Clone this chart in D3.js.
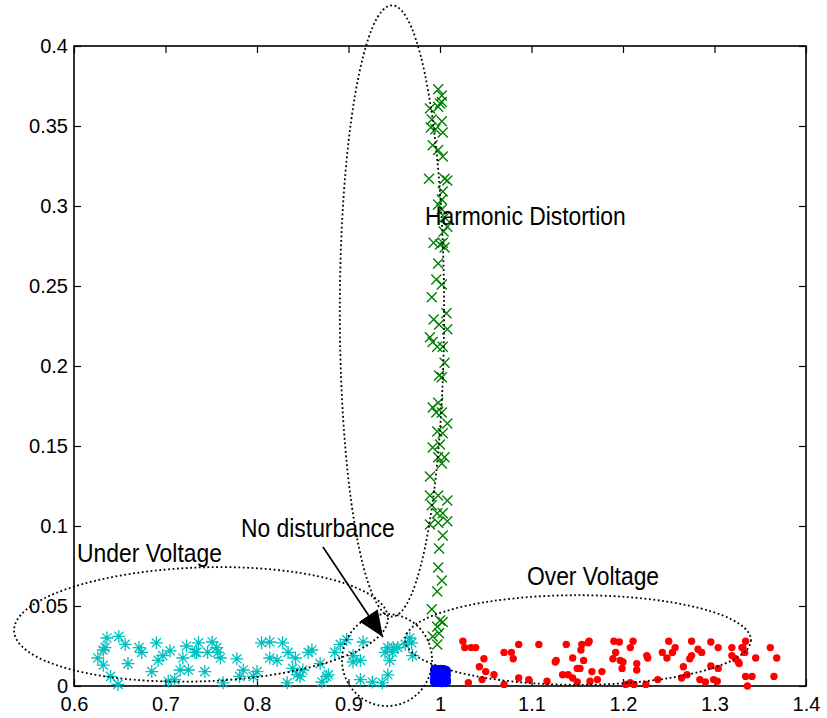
<!DOCTYPE html>
<html>
<head>
<meta charset="utf-8">
<script src="https://cdn.jsdelivr.net/npm/d3@7"></script>
<style>
  body { margin: 0; background: #fff; }
  svg { display: block; }
</style>
</head>
<body>
<div id="container"></div>
<script>
const width = 827, height = 718;
const margin = ({top: 46, right: 21, bottom: 32, left: 74});

// axis ticks
const xTicks = [0.6, 0.7, 0.8, 0.9, 1, 1.1, 1.2, 1.3, 1.4];
const yTicks = [0, 0.05, 0.1, 0.15, 0.2, 0.25, 0.3, 0.35, 0.4];

// Under Voltage (cyan asterisks)
const underVoltage = [
  [0.636, 0.030], [0.634, 0.024], [0.632, 0.0225], [0.626, 0.0175], [0.632, 0.013],
  [0.649, 0.031], [0.656, 0.026], [0.640, 0.006], [0.648, 0.001], [0.659, 0.014],
  [0.671, 0.024], [0.674, 0.021], [0.690, 0.027], [0.685, 0.009], [0.692, 0.016],
  [0.697, 0.019], [0.705, 0.022], [0.703, 0.003], [0.710, 0.004], [0.723, 0.025],
  [0.719, 0.0175], [0.716, 0.010], [0.725, 0.010], [0.732, 0.021], [0.736, 0.027],
  [0.734, 0.021], [0.743, 0.009], [0.751, 0.0275], [0.746, 0.021], [0.756, 0.024],
  [0.757, 0.021], [0.760, 0.0175], [0.763, 0.002], [0.778, 0.017], [0.785, 0.010],
  [0.781, 0.006], [0.800, 0.009], [0.796, 0.006], [0.805, 0.027], [0.814, 0.0275],
  [0.828, 0.027], [0.814, 0.0175], [0.822, 0.016], [0.834, 0.021], [0.842, 0.0175],
  [0.860, 0.0225], [0.856, 0.021], [0.869, 0.014], [0.885, 0.021], [0.891, 0.026],
  [0.898, 0.029], [0.905, 0.019], [0.905, 0.015], [0.913, 0.016], [0.916, 0.0275],
  [0.878, 0.007], [0.871, 0.0025], [0.850, 0.010], [0.844, 0.007], [0.839, 0.011],
  [0.833, 0.002], [0.913, 0.004], [0.926, 0.0025], [0.937, 0.002], [0.943, 0.007],
  [0.943, 0.024], [0.940, 0.021], [0.949, 0.024], [0.948, 0.021], [0.954, 0.024],
  [0.945, 0.016], [0.962, 0.026], [0.967, 0.030], [0.969, 0.027], [0.970, 0.019],
  [0.847, 0.006], [0.876, 0.006]
];

// Harmonic Distortion (green x)
const harmonic = [
  [0.998, 0.373], [1.002, 0.369], [0.989, 0.361], [1.000, 0.364], [1.002, 0.365],
  [0.998, 0.362], [0.991, 0.354], [1.002, 0.353], [0.990, 0.349], [1.003, 0.346],
  [0.995, 0.348], [0.992, 0.338], [0.998, 0.335], [1.003, 0.331], [0.988, 0.317],
  [1.005, 0.317], [1.008, 0.316], [1.003, 0.309], [1.002, 0.304], [0.998, 0.301],
  [1.002, 0.298], [1.005, 0.293], [1.008, 0.287], [1.004, 0.284], [0.993, 0.277],
  [1.000, 0.276], [1.003, 0.277], [1.005, 0.274], [0.998, 0.264], [0.996, 0.254],
  [1.002, 0.251], [0.991, 0.243], [0.993, 0.229], [0.999, 0.226], [1.007, 0.233],
  [1.008, 0.223], [0.989, 0.218], [0.992, 0.215], [0.997, 0.212], [1.003, 0.212],
  [1.005, 0.202], [0.999, 0.194], [1.002, 0.193], [0.992, 0.174], [0.998, 0.177],
  [1.002, 0.171], [0.996, 0.171], [1.008, 0.164], [0.997, 0.159], [1.003, 0.158],
  [0.992, 0.149], [1.000, 0.151], [0.998, 0.143], [1.005, 0.143], [1.002, 0.139],
  [0.989, 0.131], [0.989, 0.119], [0.998, 0.119], [1.008, 0.116], [0.991, 0.113],
  [0.997, 0.108], [1.003, 0.108], [0.989, 0.101], [0.998, 0.102], [1.008, 0.103],
  [1.003, 0.094], [0.999, 0.086], [0.998, 0.074], [1.002, 0.066], [0.997, 0.059],
  [0.991, 0.048], [1.000, 0.041], [1.003, 0.040], [0.997, 0.037], [0.999, 0.033],
  [0.992, 0.031], [0.997, 0.026]
];

// Over Voltage (red dots)
const overVoltage = [
  [1.025, 0.028], [1.027, 0.024], [1.034, 0.024], [1.039, 0.024], [1.031, 0.002],
  [1.043, 0.012], [1.048, 0.017], [1.050, 0.009], [1.046, 0.004], [1.059, 0.007],
  [1.070, 0.001], [1.070, 0.021], [1.078, 0.021], [1.080, 0.017], [1.086, 0.026],
  [1.086, 0.005], [1.097, 0.004], [1.108, 0.026], [1.117, 0.003], [1.126, 0.015],
  [1.127, 0.016], [1.134, 0.007], [1.138, 0.026], [1.140, 0.007], [1.145, 0.0175],
  [1.145, 0.005], [1.150, 0.0025], [1.150, 0.011], [1.153, 0.011], [1.154, 0.0225],
  [1.155, 0.026], [1.157, 0.016], [1.162, 0.027], [1.163, 0.028], [1.164, 0.003],
  [1.166, 0.009], [1.172, 0.004], [1.177, 0.009], [1.189, 0.017], [1.190, 0.028],
  [1.192, 0.021], [1.196, 0.0275], [1.197, 0.016], [1.200, 0.015], [1.199, 0.011],
  [1.203, 0.001], [1.208, 0.002], [1.212, 0.001], [1.208, 0.024], [1.211, 0.028],
  [1.215, 0.014], [1.215, 0.010], [1.225, 0.001], [1.226, 0.019], [1.227, 0.0175],
  [1.238, 0.004], [1.243, 0.021], [1.248, 0.0175], [1.250, 0.028], [1.254, 0.021],
  [1.257, 0.024], [1.264, 0.005], [1.266, 0.012], [1.270, 0.007], [1.273, 0.017],
  [1.275, 0.028], [1.275, 0.019], [1.282, 0.023], [1.286, 0.021], [1.284, 0.004],
  [1.290, 0.0025], [1.296, 0.0275], [1.296, 0.0125], [1.299, 0.004], [1.303, 0.003],
  [1.304, 0.024], [1.304, 0.011], [1.319, 0.024], [1.319, 0.019], [1.323, 0.017],
  [1.326, 0.015], [1.327, 0.014], [1.330, 0.024], [1.331, 0.024], [1.333, 0.021],
  [1.334, 0.028], [1.334, 0.006], [1.336, 0.000], [1.341, 0.006], [1.345, 0.0175],
  [1.361, 0.024], [1.365, 0.006], [1.368, 0.0175]
];

// No disturbance (blue blob)
const noDisturbance = [
  [0.995, 0.010], [0.998, 0.0097], [1.001, 0.0099], [1.004, 0.0097], [1.006, 0.0094],
  [0.995, 0.007], [0.999, 0.0065], [1.002, 0.007], [1.006, 0.0068], [0.995, 0.004],
  [1.000, 0.0035], [1.003, 0.004], [1.006, 0.0038], [0.995, 0.0032], [1.006, 0.003],
  [0.998, 0.0028], [1.002, 0.0026], [0.995, 0.0028], [1.006, 0.0027]
];

// dotted ellipses: cx, cy, rx, ry in data units, rot in degrees
const ellipses = [
  {name: "harmonic", cx: 0.9475, cy: 0.2344, rx: 0.0570, ry: 0.191, rot: 0},
  {name: "under", cx: 0.7388, cy: 0.0385, rx: 0.2044, ry: 0.0356, rot: -2},
  {name: "none", cx: 0.9421, cy: 0.01625, rx: 0.0492, ry: 0.0288, rot: 0},
  {name: "over", cx: 1.1508, cy: 0.02875, rx: 0.189, ry: 0.028, rot: 0}
];

const labels = [
  {text: "Harmonic Distortion", x: 0.9836, y: 0.288},
  {text: "Under Voltage", x: 0.6033, y: 0.0775},
  {text: "No disturbance", x: 0.7825, y: 0.0931},
  {text: "Over Voltage", x: 1.095, y: 0.063}
];

const arrow = {x1: 0.8721, y1: 0.0869, x2: 0.9377, y2: 0.0306};

const svg = d3.select("#container").append("svg")
    .attr("width", width)
    .attr("height", height)
    .attr("font-family", "'Liberation Sans', Arial, sans-serif");

const x = d3.scaleLinear()
    .domain([0.6, 1.4])
    .range([margin.left, width - margin.right]);
const y = d3.scaleLinear()
    .domain([0, 0.4])
    .range([height - margin.bottom, margin.top]);

// axes, ticks pointing inward on all four sides
const fmt = d => String(d);
const tick = 7;
svg.append("g")
    .attr("transform", `translate(0,${y(0)})`)
    .call(d3.axisBottom(x).tickValues(xTicks).tickFormat(fmt).tickSize(-tick).tickSizeOuter(0).tickPadding(11))
    .call(styleAxis);
svg.append("g")
    .attr("transform", `translate(0,${y(0.4)})`)
    .call(d3.axisTop(x).tickValues(xTicks).tickFormat("").tickSize(-tick).tickSizeOuter(0))
    .call(styleAxis);
svg.append("g")
    .attr("transform", `translate(${x(0.6)},0)`)
    .call(d3.axisLeft(y).tickValues(yTicks).tickFormat(fmt).tickSize(-tick).tickSizeOuter(0).tickPadding(6))
    .call(styleAxis);
svg.append("g")
    .attr("transform", `translate(${x(1.4)},0)`)
    .call(d3.axisRight(y).tickValues(yTicks).tickFormat("").tickSize(-tick).tickSizeOuter(0))
    .call(styleAxis);

function styleAxis(g) {
    g.select(".domain").remove();
    g.selectAll(".tick line").attr("stroke", "#000").attr("stroke-width", 1.2);
    g.selectAll(".tick text").attr("fill", "#000").attr("font-size", 20);
}

svg.append("rect")
    .attr("x", x(0.6))
    .attr("y", y(0.4))
    .attr("width", x(1.4) - x(0.6))
    .attr("height", y(0) - y(0.4))
    .attr("fill", "none")
    .attr("stroke", "#000")
    .attr("stroke-width", 1.6);

// markers
const s = 6.5, a = s * 0.7071;
const asterisk = `M${-s},0L${s},0M0,${-s}L0,${s}M${-a},${-a}L${a},${a}M${-a},${a}L${a},${-a}`;
const k = 5;
const cross = `M${-k},${-k}L${k},${k}M${-k},${k}L${k},${-k}`;

svg.append("g")
    .selectAll("path")
    .data(underVoltage)
    .join("path")
    .attr("transform", d => `translate(${x(d[0])},${y(d[1])})`)
    .attr("d", asterisk)
    .attr("fill", "none")
    .attr("stroke", "#00bfbf")
    .attr("stroke-width", 1.3);

svg.append("g")
    .selectAll("path")
    .data(harmonic)
    .join("path")
    .attr("transform", d => `translate(${x(d[0])},${y(d[1])})`)
    .attr("d", cross)
    .attr("fill", "none")
    .attr("stroke", "#008000")
    .attr("stroke-width", 1.4);

svg.append("g")
    .selectAll("circle")
    .data(overVoltage)
    .join("circle")
    .attr("cx", d => x(d[0]))
    .attr("cy", d => y(d[1]))
    .attr("r", 3.7)
    .attr("fill", "#ff0000");

svg.append("g")
    .selectAll("circle")
    .data(noDisturbance)
    .join("circle")
    .attr("cx", d => x(d[0]))
    .attr("cy", d => y(d[1]))
    .attr("r", 5.5)
    .attr("fill", "#0000ff");

// dotted ellipses
svg.append("g")
    .selectAll("ellipse")
    .data(ellipses)
    .join("ellipse")
    .attr("transform", d => `translate(${x(d.cx)},${y(d.cy)}) rotate(${d.rot})`)
    .attr("rx", d => x(d.cx + d.rx) - x(d.cx))
    .attr("ry", d => y(0) - y(d.ry))
    .attr("fill", "none")
    .attr("stroke", "#000")
    .attr("stroke-width", 1.8)
    .attr("stroke-dasharray", "1.8,2.6");

// arrow
svg.append("defs").append("marker")
    .attr("id", "head")
    .attr("viewBox", "0 0 26 22")
    .attr("refX", 26)
    .attr("refY", 11)
    .attr("markerWidth", 26)
    .attr("markerHeight", 22)
    .attr("markerUnits", "userSpaceOnUse")
    .attr("orient", "auto")
    .append("path")
    .attr("d", "M0,0L26,11L0,22Z")
    .attr("fill", "#000");

svg.append("line")
    .attr("x1", x(arrow.x1))
    .attr("y1", y(arrow.y1))
    .attr("x2", x(arrow.x2))
    .attr("y2", y(arrow.y2))
    .attr("stroke", "#000")
    .attr("stroke-width", 1.7)
    .attr("marker-end", "url(#head)");

// annotation text (a bit condensed)
svg.append("g")
    .selectAll("text")
    .data(labels)
    .join("text")
    .attr("transform", d => `translate(${x(d.x)},${y(d.y)}) scale(0.88,1)`)
    .attr("font-size", 26)
    .attr("fill", "#000")
    .text(d => d.text);
</script>
</body>
</html>
